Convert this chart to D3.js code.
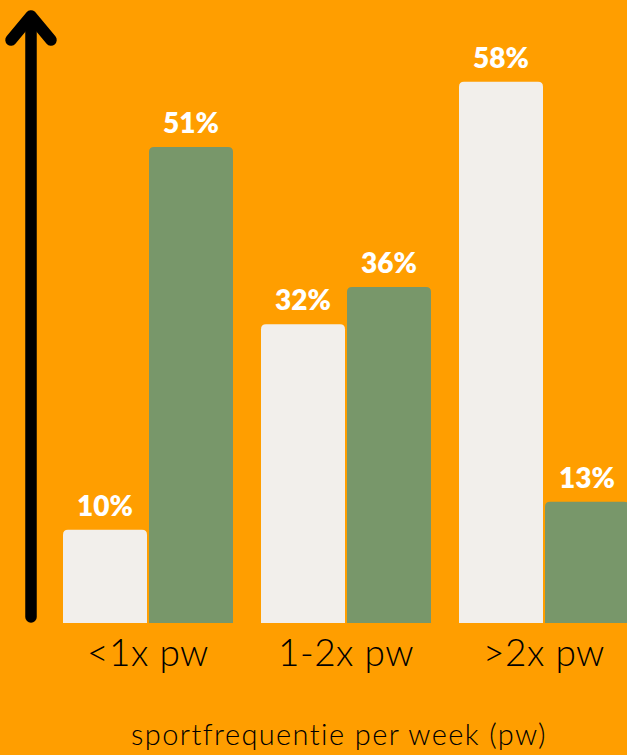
<!DOCTYPE html>
<html lang="nl">
  <head>
    <meta charset="UTF-8" />
    <title>Sportfrequentie per week</title>
    <script src="https://d3js.org/d3.v7.min.js"></script>
    <style>
      html,
      body {
        margin: 0;
        padding: 0;
        background: #ff9e00;
      }
      svg {
        display: block;
      }
    </style>
  </head>
  <body>
    <div id="chart"></div>
    <script>
      // data
      const categories = ["<1x pw", "1-2x pw", ">2x pw"];
      const seriesKeys = ["groep1", "groep2"];
      const groep1 = [10, 32, 58];
      const groep2 = [51, 36, 13];
      const axisTitle = "sportfrequentie per week (pw)";

      const colors = { groep1: "#f2efeb", groep2: "#78976a" };

      const width = 627,
        height = 755;
      const baseline = 623;

      const svg = d3
        .select("#chart")
        .append("svg")
        .attr("width", width)
        .attr("height", height);

      svg
        .append("rect")
        .attr("width", width)
        .attr("height", height)
        .attr("fill", "#ff9e00");

      // scales
      const x0 = d3
        .scaleBand()
        .domain(categories)
        .range([63, 629])
        .paddingInner(28 / 198)
        .paddingOuter(0);

      const x1 = d3
        .scaleBand()
        .domain(seriesKeys)
        .range([0, x0.bandwidth()])
        .paddingInner(2 / 86);

      const y = d3.scaleLinear().domain([0, 60]).range([baseline, 63]);

      const rows = categories.map((c, i) => ({
        cat: c,
        groep1: groep1[i],
        groep2: groep2[i],
      }));

      // bar with rounded top corners
      function barPath(x, top, w, bottom, r) {
        return `M${x},${bottom}V${top + r}Q${x},${top} ${x + r},${top}H${
          x + w - r
        }Q${x + w},${top} ${x + w},${top + r}V${bottom}Z`;
      }

      const groups = svg
        .selectAll("g.group")
        .data(rows)
        .join("g")
        .attr("class", "group")
        .attr("transform", (d) => `translate(${x0(d.cat)},0)`);

      const cells = groups
        .selectAll("g.bar")
        .data((d) => seriesKeys.map((k) => ({ key: k, value: d[k] })))
        .join("g")
        .attr("class", "bar");

      cells
        .append("path")
        .attr("d", (d) =>
          barPath(x1(d.key), y(d.value), x1.bandwidth(), baseline, 5)
        )
        .attr("fill", (d) => colors[d.key]);

      cells
        .append("text")
        .attr("x", (d) => x1(d.key) + x1.bandwidth() / 2)
        .attr("y", (d) => y(d.value) - 14)
        .attr("text-anchor", "middle")
        .attr("fill", "#ffffff")
        .style("font-family", "Lato, sans-serif")
        .style("font-weight", 800)
        .style("font-size", "28px")
        .text((d) => d.value + "%");

      // category labels
      svg
        .selectAll("text.cat")
        .data(categories)
        .join("text")
        .attr("class", "cat")
        .attr("x", (d) => x0(d) + x0.bandwidth() / 2)
        .attr("y", 666)
        .attr("text-anchor", "middle")
        .attr("fill", "#000")
        .style("font-family", "Lato, sans-serif")
        .style("font-weight", 300)
        .style("font-size", "37px")
        .style("letter-spacing", "0.5px")
        .text((d) => d);

      // axis title
      svg
        .append("text")
        .attr("x", 339)
        .attr("y", 745)
        .attr("text-anchor", "middle")
        .attr("fill", "#000")
        .style("font-family", "Lato, sans-serif")
        .style("font-weight", 300)
        .style("font-size", "29px")
        .style("letter-spacing", "1.4px")
        .text(axisTitle);

      // y-axis arrow
      const ax = 31;
      const arrow = svg
        .append("g")
        .attr("fill", "none")
        .attr("stroke", "#000")
        .attr("stroke-width", 11.5)
        .attr("stroke-linecap", "round")
        .attr("stroke-linejoin", "round");
      arrow
        .append("line")
        .attr("x1", ax)
        .attr("x2", ax)
        .attr("y1", baseline - 6)
        .attr("y2", 17);
      arrow
        .append("path")
        .attr("d", `M${ax - 20},${40}L${ax},${16}L${ax + 20},${40}`);
    </script>
  </body>
</html>
